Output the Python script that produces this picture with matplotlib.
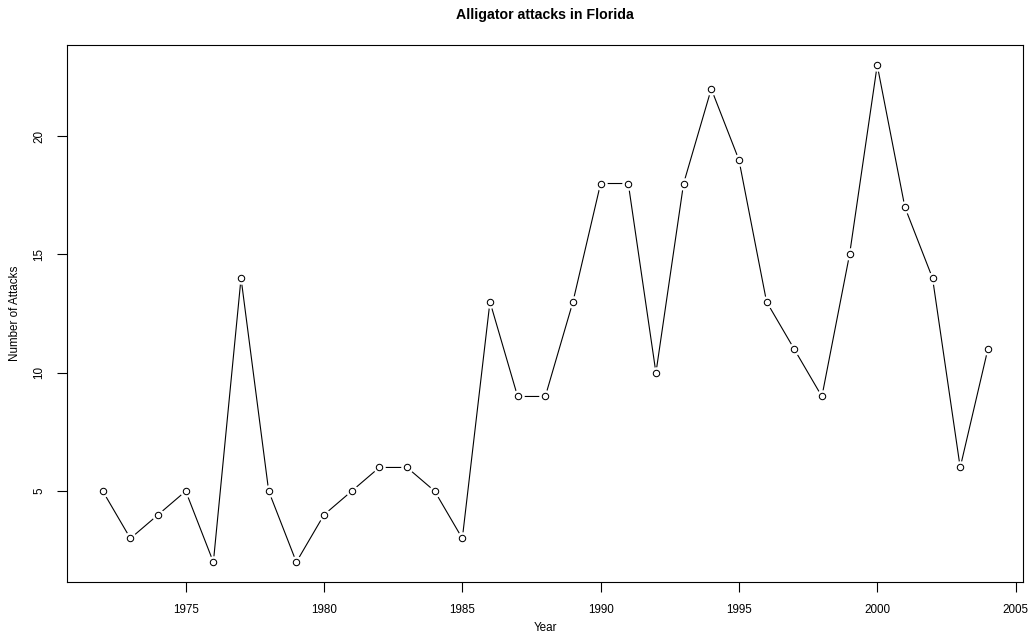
import matplotlib
matplotlib.use("Agg")
import matplotlib.pyplot as plt

plt.rcParams['font.family'] = ['Liberation Sans', 'DejaVu Sans']

years = list(range(1972, 2005))
attacks = [5, 3, 4, 5, 2, 14, 5, 2, 4, 5, 6, 6, 5, 3, 13, 9, 9, 13, 18, 18,
           10, 18, 22, 19, 13, 11, 9, 15, 23, 17, 14, 6, 11]
xticks = [1975, 1980, 1985, 1990, 1995, 2000, 2005]
yticks = [5, 10, 15, 20]

fig = plt.figure(figsize=(10.31, 6.42), dpi=100)
ax = fig.add_axes([0.0653, 0.0935, 0.9272, 0.8359])

# type="b" look: line, white halo under each point, then open circles
ax.plot(years, attacks, color='black', lw=0.8, zorder=1)
ax.plot(years, attacks, ls='none', marker='o', ms=9, mfc='white', mec='none', zorder=2)
ax.plot(years, attacks, ls='none', marker='o', ms=4.6, mfc='white', mec='black', mew=0.75, zorder=3)

ax.set_xlim(1970.72, 2005.28)
ax.set_ylim(1.16, 23.84)
ax.set_xticks(xticks)
ax.set_yticks(yticks)
ax.tick_params(direction='out', length=7, width=0.8, labelsize=8.4, pad=9)
for lab in ax.get_yticklabels():
    lab.set_rotation(90)
    lab.set_va('center')
for sp in ax.spines.values():
    sp.set_linewidth(0.8)

# title centred over the plot box, not the whole figure
ax.text(0.5, 1 + 30.3 / 536.7, 'Alligator attacks in Florida', transform=ax.transAxes,
        fontsize=10.2, fontweight='bold', ha='center', va='center')
ax.set_xlabel('Year', fontsize=8.4)
ax.set_ylabel('Number of Attacks', fontsize=8.4)
ax.xaxis.set_label_coords(0.5, -0.0857)
ax.yaxis.set_label_coords(-0.0545, 0.5)
ax.xaxis.label.set_va('center')
ax.yaxis.label.set_va('center')

fig.savefig('out.png', dpi=100)
